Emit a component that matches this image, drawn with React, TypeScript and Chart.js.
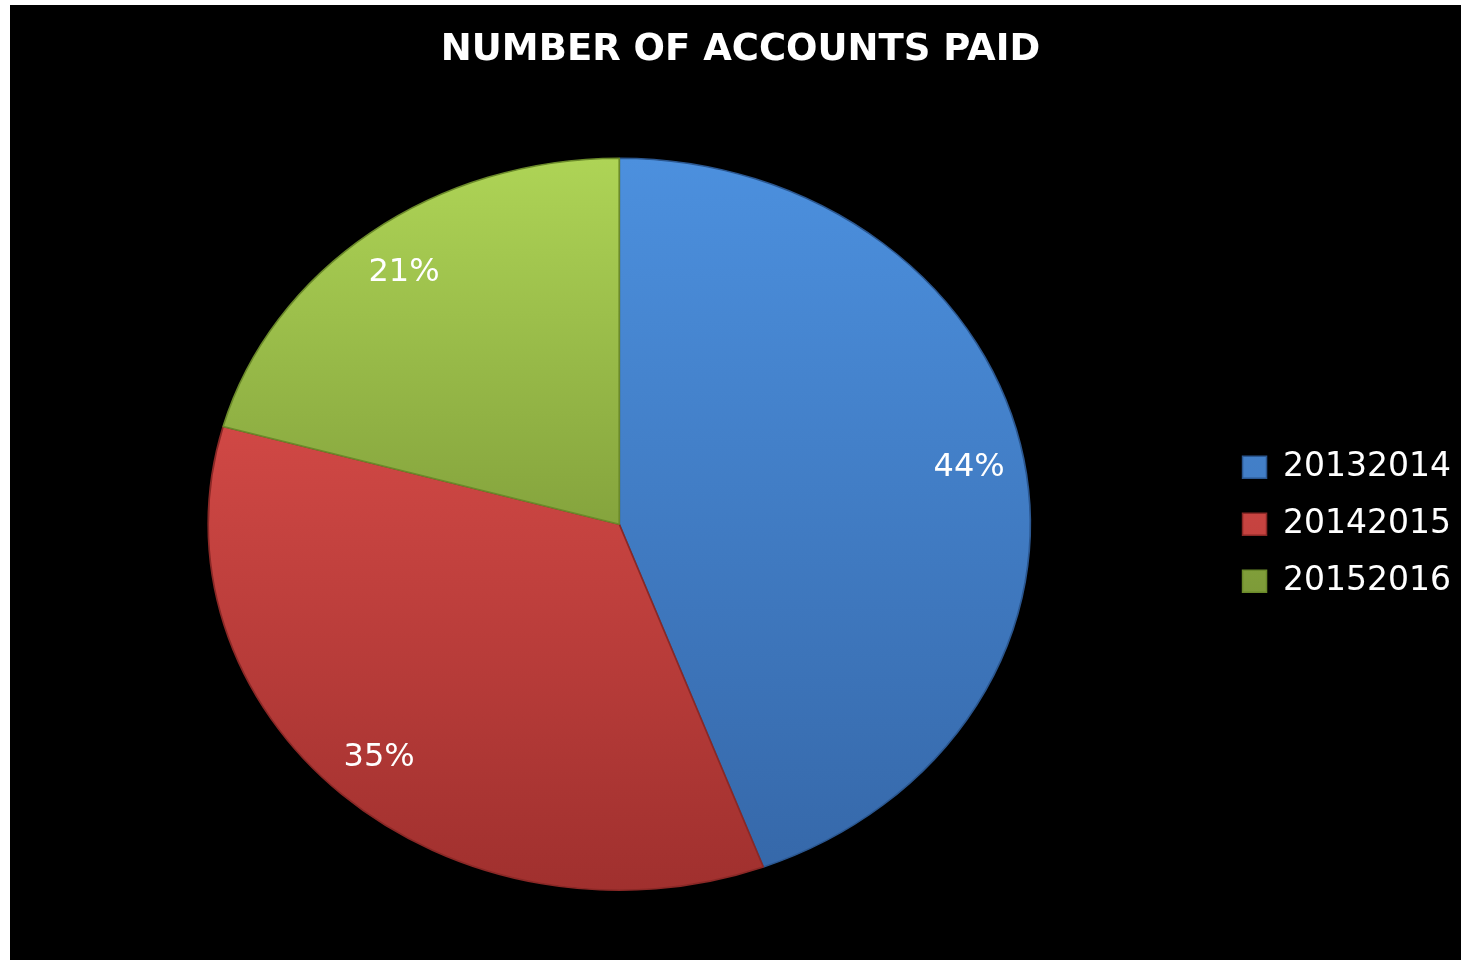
import React, { useEffect, useRef } from "react";
import { Chart, registerables } from "chart.js";

Chart.register(...registerables);

const categories = ["20132014", "20142015", "20152016"];
const shares = [44.3, 35.0, 20.7];
const chartTitle = "NUMBER OF ACCOUNTS PAID";

const topColors = ["#4c90de", "#ec5652", "#aed456"];
const bottomColors = ["#3567a8", "#a0302e", "#5c7424"];
const edgeColors = ["#2b5790", "#8a2826", "#6b8a2a"];

const SX = 411 / 366;

const ellipsePlugin = {
  id: "ellipseAndLabels",
  beforeDatasetsDraw(chart: any) {
    const meta = chart.getDatasetMeta(0);
    const arc = meta.data[0];
    if (!arc) return;
    const cx = arc.x;
    const cy = arc.y;
    const ctx = chart.ctx;
    ctx.save();
    ctx.translate(cx, cy);
    ctx.scale(SX, 1);
    ctx.translate(-cx, -cy);
  },
  afterDatasetsDraw(chart: any) {
    const ctx = chart.ctx;
    ctx.restore();
    const meta = chart.getDatasetMeta(0);
    const total = shares.reduce((a, b) => a + b, 0);
    ctx.save();
    ctx.fillStyle = "#ffffff";
    ctx.font = '32px "DejaVu Sans"';
    ctx.textAlign = "center";
    ctx.textBaseline = "middle";
    meta.data.forEach((arc: any, i: number) => {
      const p = arc.getProps(["x", "y", "startAngle", "endAngle", "outerRadius"], true);
      const mid = (p.startAngle + p.endAngle) / 2;
      const r = p.outerRadius * 0.865;
      const lx = p.x + Math.cos(mid) * r * SX;
      const ly = p.y + Math.sin(mid) * r;
      ctx.fillText(Math.round((shares[i] / total) * 100) + "%", lx, ly);
    });
    ctx.restore();
  },
};

export default function App() {
  const ref = useRef<HTMLCanvasElement>(null);
  useEffect(() => {
    document.body.style.margin = "0";
    document.body.style.overflow = "hidden";
    const canvas = ref.current!;
    const chart = new Chart(canvas, {
      type: "pie",
      data: {
        labels: categories,
        datasets: [
          {
            data: shares,
            clip: false,
            backgroundColor: (c: any) => {
              const area = c.chart.chartArea;
              const i = c.dataIndex ?? 0;
              if (!area) return topColors[i];
              const g = c.chart.ctx.createLinearGradient(0, area.top, 0, area.bottom);
              g.addColorStop(0, topColors[i]);
              g.addColorStop(1, bottomColors[i]);
              return g;
            },
            borderColor: edgeColors,
            borderWidth: 1.5,
          } as any,
        ],
      },
      options: {
        animation: false,
        responsive: false,
        devicePixelRatio: 1,
        layout: { padding: { left: 10, right: 0, top: 0, bottom: 69 } },
        plugins: {
          title: {
            display: true,
            text: chartTitle,
            color: "#ffffff",
            font: { family: "DejaVu Sans", size: 37, weight: "bold" },
            padding: { top: 23, bottom: 85 },
          },
          legend: {
            display: true,
            position: "right",
            fullSize: false,
            labels: {
              color: "#ffffff",
              font: { family: "DejaVu Sans", size: 33 },
              boxWidth: 24,
              boxHeight: 22,
              padding: 24,
            },
          },
          tooltip: { enabled: false },
        },
      },
      plugins: [ellipsePlugin],
    });
    return () => chart.destroy();
  }, []);
  return (
    <div
      style={{
        position: "absolute",
        left: 10,
        top: 5,
        width: 1451,
        height: 955,
        background: "#000000",
      }}
    >
      <canvas ref={ref} width={1451} height={955} style={{ display: "block" }} />
    </div>
  );
}
